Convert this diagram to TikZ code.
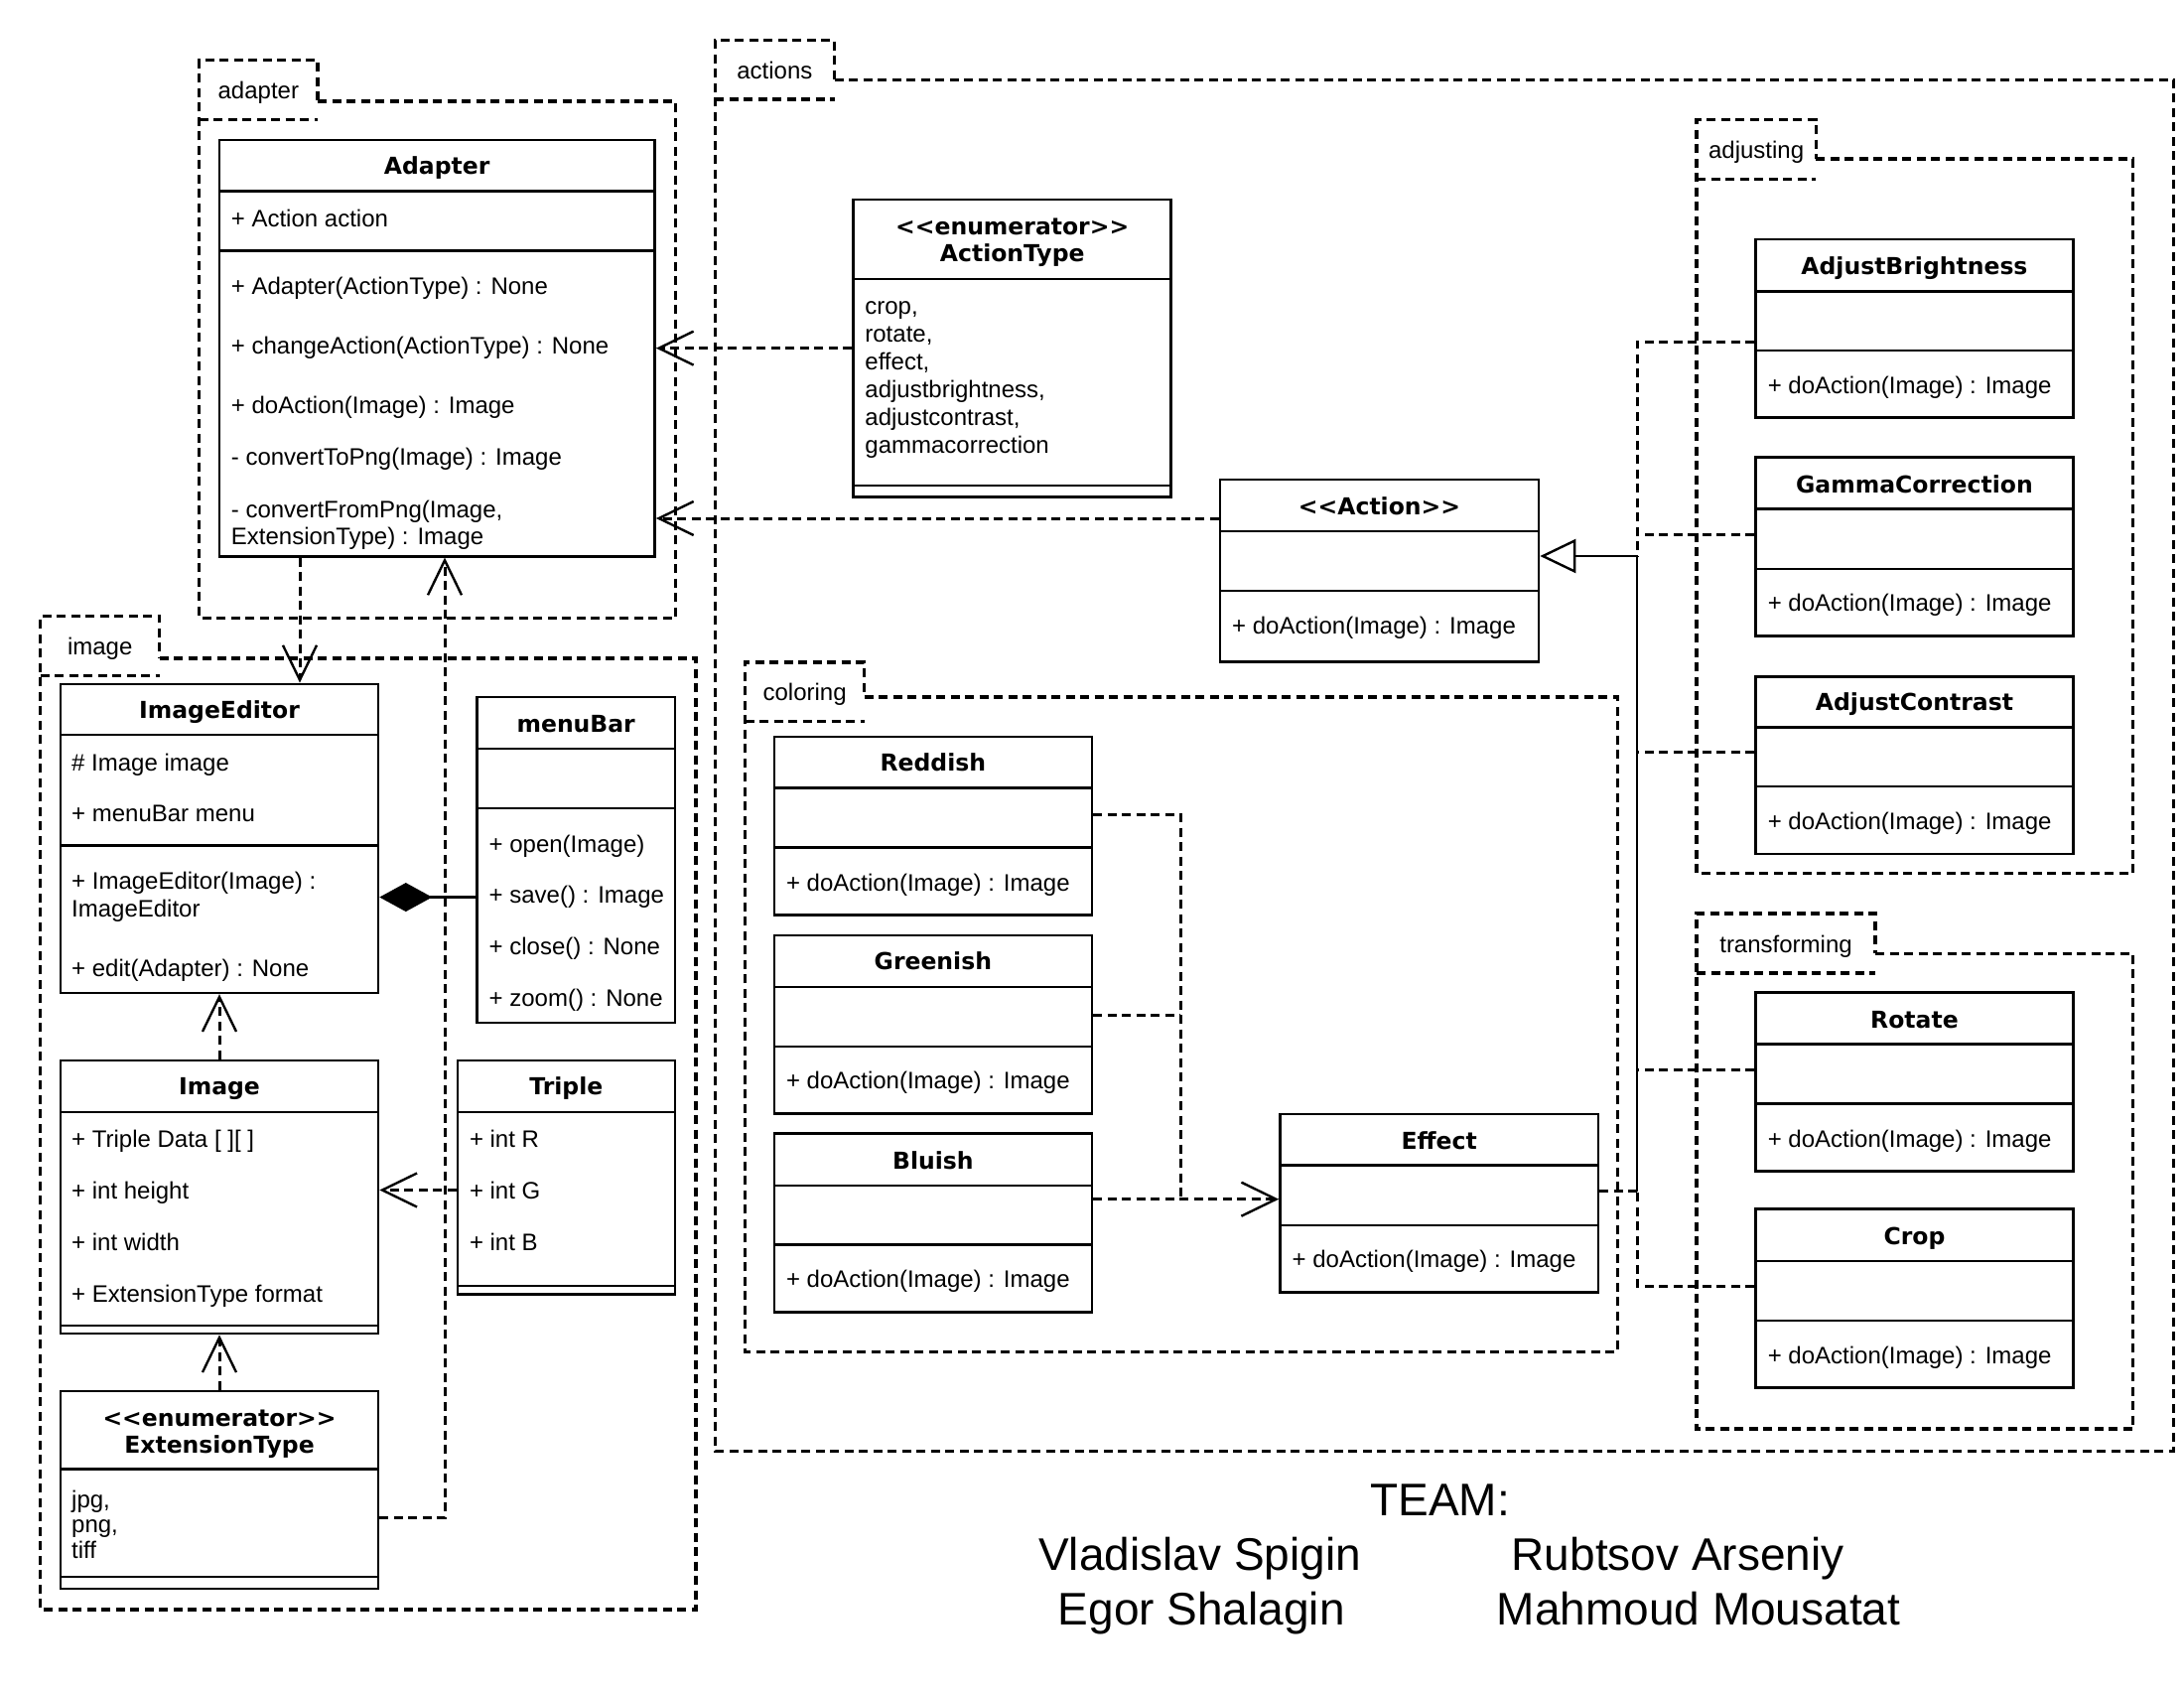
\documentclass[tikz,border=0pt]{standalone}
\usepackage{fontspec}
\setmainfont{Liberation Sans}
\newfontfamily\hdrfont{DejaVu Sans}
\usetikzlibrary{fit,arrows.meta}
\newcommand\oll{<\kern0pt<}
\newcommand\ogg{>\kern0pt>}
\tikzset{
  cls/.style={draw, line width=2.6pt, inner sep=0pt},
  clsline/.style={line width=2.6pt},
  pkg/.style={line width=3.3pt, dash pattern=on 9pt off 5.5pt},
  dep/.style={line width=3pt, dash pattern=on 9pt off 5.5pt},
  openv/.style={-{Straight Barb[length=35pt,width=34pt,line width=2.4pt]}},
  gen/.style={line width=2.8pt, -{Triangle[open,length=36pt,width=34pt,line width=2.4pt]}},
  comp/.style={line width=2.6pt, -{Diamond[length=53pt,width=29pt]}},
  txt/.style={anchor=base west, inner sep=0pt, font=\fontsize{24}{28}\selectfont},
  ttl/.style={anchor=base, inner sep=0pt, font=\hdrfont\bfseries\fontsize{23.5}{28}\selectfont},
  pkglbl/.style={anchor=base, inner sep=0pt, font=\fontsize{24}{28}\selectfont},
  team/.style={anchor=base west, inner sep=0pt, font=\fontsize{46}{52}\selectfont}
}
% name, x1, y1, x2, y2, header line, second line
\newcommand\umlclass[7]{%
  \node[cls, fit={(#2,#3) (#4,#5)}] (#1) {};
  \draw[clsline] (#2,#6) -- (#4,#6);
  \draw[clsline] (#2,#7) -- (#4,#7);
}
% name, tabL, tabT, tabR, tabB, bodyT, bodyR, bodyB, label
\newcommand\umlpkg[9]{%
  \draw[pkg] (#4,#6) -- (#7,#6) -- (#7,#8) -- (#2,#8) -- (#2,#3) -- (#4,#3) -- cycle;
  \draw[pkg] (#2,#5) -- (#4,#5);
  \node[pkglbl] (#1) at ({(#2+#4)/2},{(#3+#5)/2+9}) {#9};
}
\begin{document}
\begin{tikzpicture}[x=1pt,y=-1pt]
\useasboundingbox (0,0) rectangle (2200,1703);
\fill[white] (0,0) rectangle (2200,1703);

% ---------------- packages ----------------
\umlpkg{pkgadapter}{200.7}{60.4}{320}{120.4}{102}{680.5}{622.3}{adapter}
\umlpkg{pkgactions}{720.2}{40.2}{840.5}{100}{80.4}{2189.6}{1461.2}{actions}
\umlpkg{pkgadjusting}{1709}{120.5}{1829.3}{180.2}{160.1}{2148.8}{879.4}{adjusting}
\umlpkg{pkgcoloring}{750.5}{667}{870.7}{726.2}{701.9}{1629.2}{1361.5}{coloring}
\umlpkg{pkgtransforming}{1709}{920}{1889}{980}{960.3}{2148.8}{1439}{transforming}
\umlpkg{pkgimage}{40.7}{620.4}{160.7}{680.2}{662.9}{700.9}{1621}{image}

% ---------------- Adapter ----------------
\umlclass{adapter}{220.8}{140.8}{659.6}{560.2}{192.6}{252.6}
\node[ttl] (adapterT) at (440.2,175.8) {Adapter};
\node[txt] (adapterA1) at (232.7,228.9) {+ Action action};
\node[txt] (adapterM1) at (232.7,296.2) {+ Adapter(ActionType) : None};
\node[txt] (adapterM2) at (232.7,356.6) {+ changeAction(ActionType) : None};
\node[txt] (adapterM3) at (232.7,416.6) {+ doAction(Image) : Image};
\node[txt] (adapterM4) at (232.7,468.6) {- convertToPng(Image) : Image};
\node[txt] (adapterM5) at (232.7,521.5) {- convertFromPng(Image,};
\node[txt] (adapterM6) at (232.7,548) {ExtensionType) : Image};

% ---------------- ActionType ----------------
\umlclass{actiontype}{859.7}{200.9}{1179.7}{500.4}{280.8}{488.8}
\node[ttl] (actiontypeT1) at (1019.7,236.2) {\oll enumerator\ogg};
\node[ttl] (actiontypeT2) at (1019.7,263.8) {ActionType};
\node[txt] (at1) at (871.2,316.6) {crop,};
\node[txt] (at2) at (871.2,344.3) {rotate,};
\node[txt] (at3) at (871.2,372.4) {effect,};
\node[txt] (at4) at (871.2,400.6) {adjustbrightness,};
\node[txt] (at5) at (871.2,428.2) {adjustcontrast,};
\node[txt] (at6) at (871.2,456.3) {gammacorrection};

% ---------------- Action ----------------
\umlclass{action}{1229}{483}{1550}{666.6}{534.8}{595}
\node[ttl] (actionT) at (1389.5,518.1) {\oll Action\ogg};
\node[txt] (actionM) at (1241,638.4) {+ doAction(Image) : Image};

% ---------------- adjusting ----------------
\umlclass{adjb}{1768.3}{241}{2088.6}{420.7}{293.3}{353}
\node[ttl] (adjbT) at (1928.45,276) {AdjustBrightness};
\node[txt] (adjbM) at (1780.6,396.6) {+ doAction(Image) : Image};
\umlclass{gamma}{1768.3}{460.3}{2088.6}{640.6}{512.6}{572.9}
\node[ttl] (gammaT) at (1928.45,496.5) {GammaCorrection};
\node[txt] (gammaM) at (1780.6,615.9) {+ doAction(Image) : Image};
\umlclass{adjc}{1768.3}{681.3}{2088.6}{859.9}{732.4}{792}
\node[ttl] (adjcT) at (1928.45,715.5) {AdjustContrast};
\node[txt] (adjcM) at (1780.6,835.2) {+ doAction(Image) : Image};

% ---------------- transforming ----------------
\umlclass{rotate}{1768.3}{999.4}{2088.6}{1179.7}{1051.6}{1111.7}
\node[ttl] (rotateT) at (1928.45,1035.5) {Rotate};
\node[txt] (rotateM) at (1780.6,1155.9) {+ doAction(Image) : Image};
\umlclass{crop}{1768.3}{1217.7}{2088.6}{1397.6}{1269.9}{1330}
\node[ttl] (cropT) at (1928.45,1253.1) {Crop};
\node[txt] (cropM) at (1780.6,1373.8) {+ doAction(Image) : Image};

% ---------------- coloring ----------------
\umlclass{reddish}{779.9}{741.8}{1099.8}{921.7}{793.7}{853.3}
\node[ttl] (reddishT) at (939.85,776.9) {Reddish};
\node[txt] (reddishM) at (791.8,897.3) {+ doAction(Image) : Image};
\umlclass{greenish}{779.9}{941.9}{1099.8}{1121.4}{993.8}{1053.9}
\node[ttl] (greenishT) at (939.85,976.5) {Greenish};
\node[txt] (greenishM) at (791.8,1096.9) {+ doAction(Image) : Image};
\umlclass{bluish}{779.9}{1141.6}{1099.8}{1321.5}{1193.9}{1253.6}
\node[ttl] (bluishT) at (939.85,1177.2) {Bluish};
\node[txt] (bluishM) at (791.8,1296.6) {+ doAction(Image) : Image};
\umlclass{effect}{1289.5}{1121.9}{1609.9}{1301.5}{1173.7}{1233.9}
\node[ttl] (effectT) at (1449.7,1157) {Effect};
\node[txt] (effectM) at (1301.5,1276.9) {+ doAction(Image) : Image};

% ---------------- image ----------------
\umlclass{imageeditor}{61}{688.9}{381}{999.9}{740}{851.5}
\node[ttl] (imageeditorT) at (221,723.5) {ImageEditor};
\node[txt] (ie1) at (72,776) {\# Image image};
\node[txt] (ie2) at (72,827.6) {+ menuBar menu};
\node[txt] (ie3) at (72,895.6) {+ ImageEditor(Image) :};
\node[txt] (ie4) at (72,923.9) {ImageEditor};
\node[txt] (ie5) at (72,983.8) {+ edit(Adapter) : None};

\umlclass{menubar}{480.6}{701.9}{679.8}{1029.8}{754}{813.8}
\node[ttl] (menubarT) at (580.2,737.7) {menuBar};
\node[txt] (mb1) at (492.5,858) {+ open(Image)};
\node[txt] (mb2) at (492.5,909.6) {+ save() : Image};
\node[txt] (mb3) at (492.5,961.6) {+ close() : None};
\node[txt] (mb4) at (492.5,1013.6) {+ zoom() : None};

\umlclass{image}{61}{1068}{381}{1343}{1120}{1335}
\node[ttl] (imageT) at (221,1102.9) {Image};
\node[txt] (im1) at (72,1155.9) {+ Triple Data [ ][ ]};
\node[txt] (im2) at (72,1207.6) {+ int height};
\node[txt] (im3) at (72,1259.1) {+ int width};
\node[txt] (im4) at (72,1311) {+ ExtensionType format};

\umlclass{triple}{460.8}{1068}{679.8}{1303.3}{1120}{1295}
\node[ttl] (tripleT) at (570.3,1102.9) {Triple};
\node[txt] (tr1) at (472.8,1155.9) {+ int R};
\node[txt] (tr2) at (472.8,1207.6) {+ int G};
\node[txt] (tr3) at (472.8,1259.1) {+ int B};

\umlclass{exttype}{61}{1400.8}{381}{1599.9}{1479.5}{1588}
\node[ttl] (exttypeT1) at (221,1436.5) {\oll enumerator\ogg};
\node[ttl] (exttypeT2) at (221,1463.5) {ExtensionType};
\node[txt] (et1) at (72,1518.2) {jpg,};
\node[txt] (et2) at (72,1543.6) {png,};
\node[txt] (et3) at (72,1569.6) {tiff};

% ---------------- connectors ----------------
\draw[dep,openv] (actiontype.west) -- (actiontype.west -| adapter.east);
\draw[dep,openv] ([yshift=52.8pt]action.west) coordinate (a2) -- (a2 -| adapter.east);
\draw[dep,openv] ([xshift=-138.2pt]adapter.south) coordinate (a1) -- (a1 |- imageeditor.north);
\draw[dep,openv] ([yshift=-28.5pt]exttype.east) -| ([xshift=7.8pt]adapter.south);
\draw[dep,openv] (image.north) -- (imageeditor.south);
\draw[dep,openv] (exttype.north) -- (image.south);
\draw[dep,openv] ([yshift=-12.85pt]triple.west) coordinate (t1) -- (t1 -| image.east);
\draw[comp] ([yshift=-37.7pt]menubar.west) coordinate (m1) -- (m1 -| imageeditor.east);

\coordinate (cj) at (1189.3,1207.7);
\draw[dep] ([yshift=11.45pt]reddish.east) -| (cj);
\draw[dep] ([yshift=9.45pt]greenish.east) coordinate (g1) -- (g1 -| cj);
\draw[dep,openv] ([yshift=23.85pt]bluish.east) -- ([yshift=4pt]effect.west);

\coordinate (bus) at (1649,560);
\coordinate (busb) at (1649,1199.5);
\draw[gen] (busb) -- (bus) -- ([yshift=14.8pt]action.east);
\draw[dep] ([yshift=12.2pt]effect.east) -- (busb);
\draw[dep] ([yshift=-13.55pt]adjb.west) -| (bus);
\draw[dep] ([yshift=12.05pt]gamma.west) coordinate (g2) -- (g2 -| bus);
\draw[dep] ([yshift=12.9pt]adjc.west) coordinate (g3) -- (g3 -| bus);
\draw[dep] ([yshift=11.85pt]rotate.west) coordinate (g4) -- (g4 -| bus);
\draw[dep] ([yshift=12.65pt]crop.west) -| (busb);

% ---------------- team ----------------
\node[team] (teamT) at (1380,1526) {TEAM:};
\node[team] (team1) at (1046,1581) {Vladislav Spigin};
\node[team] (team2) at (1522.5,1581) {Rubtsov Arseniy};
\node[team] (team3) at (1065.6,1636) {Egor Shalagin};
\node[team] (team4) at (1507.6,1636) {Mahmoud Mousatat};
\end{tikzpicture}
\end{document}
